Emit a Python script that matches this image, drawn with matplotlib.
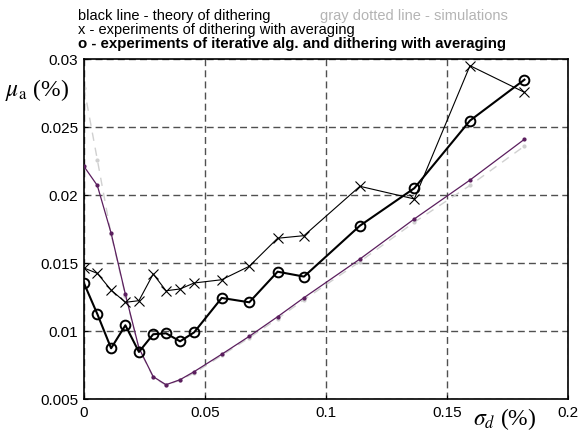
import numpy as np
import matplotlib.pyplot as plt

plt.rcParams['font.family'] = ['Liberation Sans', 'DejaVu Sans']
plt.rcParams['mathtext.fontset'] = 'stix'

# sigma_d sample points (%)
sigma_d = [0, 0.0055, 0.0112, 0.0171, 0.0227, 0.0286, 0.0339, 0.0397, 0.0455,
           0.0569, 0.0683, 0.0800, 0.0909, 0.1140, 0.1365, 0.1595, 0.1820]

# theory of dithering (purple)
theory = [0.0221, 0.0207, 0.0172, 0.0127, 0.00875, 0.00664, 0.00605, 0.00642,
          0.00701, 0.00829, 0.00961, 0.01105, 0.01245, 0.01529, 0.01824,
          0.0211, 0.0241]

# simulations (gray dotted)
simul = [0.0279, 0.0226, 0.0171, 0.0126, 0.0087, 0.0066, 0.0060, 0.0064,
         0.0069, 0.0082, 0.0095, 0.0109, 0.0123, 0.0151, 0.0180, 0.0207,
         0.0236]

# x - experiments of dithering with averaging
exp_x = [0.01463, 0.01424, 0.01301, 0.01211, 0.01223, 0.01419, 0.01296,
         0.01309, 0.01353, 0.01377, 0.01476, 0.01682, 0.01701, 0.02064,
         0.01971, 0.02951, 0.02755]

# o - experiments of iterative alg. and dithering with averaging
exp_o = [0.01351, 0.01125, 0.00873, 0.01042, 0.00846, 0.00976, 0.00983,
         0.00924, 0.0099, 0.01243, 0.01211, 0.01436, 0.0140, 0.01774,
         0.0205, 0.02547, 0.02848]

fig = plt.figure(figsize=(5.81, 4.35), dpi=100)
ax = fig.add_axes([84/581, 35/435, 484/581, 340/435])

ax.plot(sigma_d, simul, color='#d0d0d0', lw=1.0, ls=(0, (6, 5)),
        marker='.', ms=4, zorder=2)
ax.plot(sigma_d, theory, color='#5b1e5e', lw=0.9, marker='.', ms=4, zorder=3)
ax.plot(sigma_d, exp_x, color='black', lw=0.8, marker='x', ms=7, mew=0.8,
        zorder=4)
ax.plot(sigma_d, exp_o, color='black', lw=1.5, marker='o', ms=7,
        mfc='none', mew=1.4, zorder=5)

ax.set_xlim(0, 0.2)
ax.set_ylim(0.005, 0.03)
ax.set_xticks([0, 0.05, 0.1, 0.15, 0.2])
ax.set_xticklabels(['0', '0.05', '0.1', '0.15', '0.2'])
ax.set_yticks([0.005, 0.01, 0.015, 0.02, 0.025, 0.03])
ax.set_yticklabels(['0.005', '0.01', '0.015', '0.02', '0.025', '0.03'])
ax.tick_params(direction='in', length=3, labelsize=11, pad=4)
ax.grid(True, color='#505050', lw=1.0, ls=(0, (5, 3)))
for s in ax.spines.values():
    s.set_linewidth(1.2)

fig.text(78/581, 1 - 20/435, 'black line - theory of dithering',
         fontsize=10.5, va='baseline')
fig.text(320/581, 1 - 20/435, 'gray dotted line - simulations',
         fontsize=10.5, va='baseline', color='#b4b4b4')
fig.text(78/581, 1 - 34/435, 'x - experiments of dithering with averaging',
         fontsize=10.5, va='baseline')
fig.text(78/581, 1 - 48/435,
         'o - experiments of iterative alg. and dithering with averaging',
         fontsize=10.8, va='baseline', fontweight='bold')

fig.text(5/581, 1 - 90/435, r'$\mu_{\mathrm{a}}$ (%)', fontsize=17,
         family='Liberation Serif', va='center')
fig.text(473/581, 1 - 419/435, r'$\sigma_d$ (%)', fontsize=17,
         family='Liberation Serif', va='center')

fig.savefig('out.png', dpi=100)
